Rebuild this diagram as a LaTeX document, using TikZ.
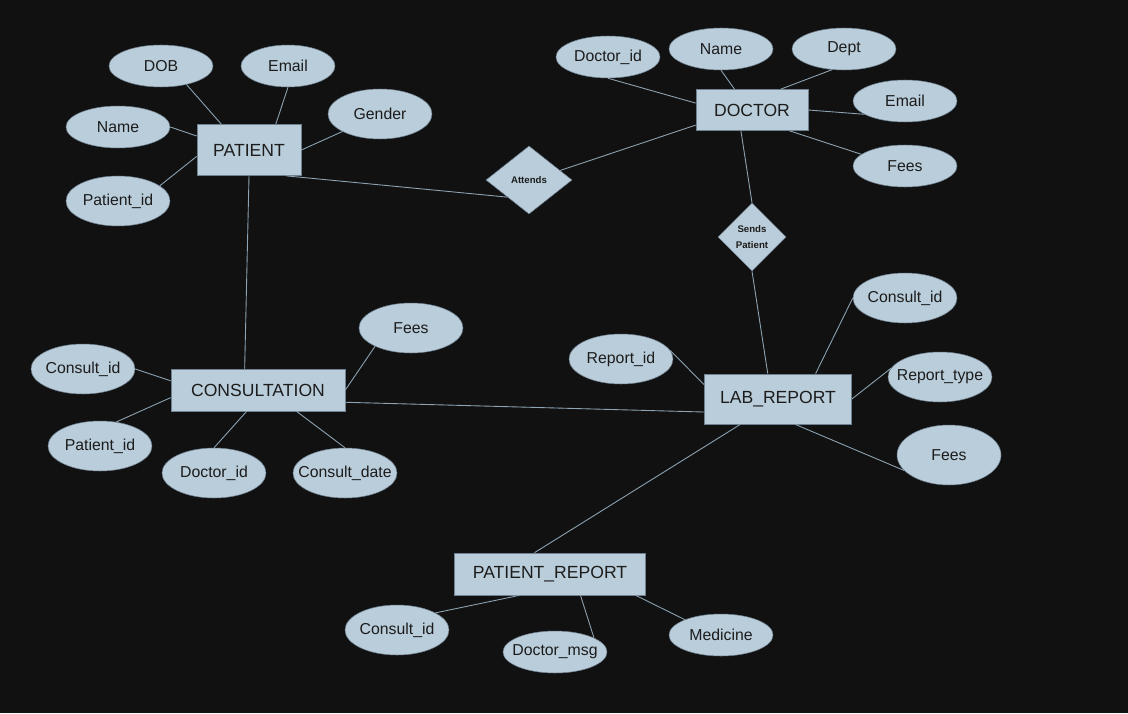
\documentclass[tikz,border=0pt]{standalone}
\usepackage{fontspec}
\setmainfont{Liberation Sans}
\usetikzlibrary{shapes.geometric}
\definecolor{bgdark}{HTML}{111111}
\definecolor{boxfill}{HTML}{BACDDA}
\definecolor{boxline}{HTML}{6F8090}
\definecolor{linkline}{HTML}{8EA3B3}
\definecolor{inktext}{HTML}{1C1C1C}
\begin{document}
\begin{tikzpicture}[x=0.02cm, y=-0.02cm,
  entity/.style={rectangle, draw=boxline, fill=boxfill, line width=0.4pt, text=inktext, font=\fontsize{10}{12}\selectfont, inner sep=0pt},
  attr/.style={ellipse, draw=boxline, fill=boxfill, line width=0.3pt, minimum width=2.08cm, minimum height=#1, inner sep=0pt},
  attr/.default=0.84cm,
  rel/.style={diamond, draw=boxline, fill=boxfill, line width=0.3pt, text=inktext, inner sep=0pt, minimum height=1.36cm, align=center, font=\bfseries\fontsize{5.5}{9.6}\selectfont},
  link/.style={draw=linkline, line width=0.5pt},
  every label/.style={text=inktext, font=\fontsize{9}{11}\selectfont}]
\path[use as bounding box, fill=bgdark] (0,0) rectangle (1128,713);

\node[entity, minimum width=2.08cm, minimum height=1.02cm] (patient) at (249,150) {PATIENT};
\node[entity, minimum width=2.24cm, minimum height=0.82cm] (doctor) at (752,110) {DOCTOR};
\node[entity, minimum width=3.48cm, minimum height=0.84cm] (consult) at (258,390) {CONSULTATION};
\node[entity, minimum width=2.94cm, minimum height=1cm] (labreport) at (778,399) {LAB\_REPORT};
\node[entity, minimum width=3.82cm, minimum height=0.84cm] (patreport) at (550,574) {PATIENT\_REPORT};

\node[rel, minimum width=1.72cm] (attends) at (529,180) {Attends};
\node[rel, minimum width=1.36cm] (sends) at (752,237) {Sends\\Patient};

\node[attr, label={center:DOB}] (pdob) at (161,66) {};
\node[attr, minimum width=1.88cm, label={center:Email}] (pemail) at (288,66) {};
\node[attr, label={center:Name}] (pname) at (118,127) {};
\node[attr=1cm, label={center:Gender}] (pgender) at (380,114) {};
\node[attr=1cm, label={center:Patient\_id}] (pid) at (118,201) {};

\node[attr, label={center:Doctor\_id}] (did) at (608,57) {};
\node[attr, label={center:Name}] (dname) at (721,49) {};
\node[attr, label={center:Dept}] (ddept) at (844,49) {};
\node[attr, label={center:Email}] (demail) at (905,101) {};
\node[attr, label={center:Fees}] (dfees) at (905,166) {};

\node[attr=1cm, label={center:Consult\_id}] (lcid) at (905,298) {};
\node[attr=1cm, label={center:Report\_id}] (lrid) at (621,359) {};
\node[attr=1cm, label={center:Report\_type}] (ltype) at (940,377) {};
\node[attr=1.2cm, label={center:Fees}] (lfees) at (949,455) {};

\node[attr=1cm, label={center:Fees}] (cfees) at (411,328) {};
\node[attr=1cm, label={center:Consult\_id}] (ccid) at (83,369) {};
\node[attr=1cm, label={center:Patient\_id}] (cpid) at (100,446) {};
\node[attr=1cm, label={center:Doctor\_id}] (cdid) at (214,473) {};
\node[attr=1cm, label={center:Consult\_date}] (cdate) at (345,473) {};

\node[attr=1cm, label={center:Consult\_id}] (rcid) at (397,630) {};
\node[attr, label={center:Doctor\_msg}] (rmsg) at (555,652) {};
\node[attr, label={center:Medicine}] (rmed) at (721,635) {};

\draw[link] (pdob.-36) -- (patient.137);
\draw[link] (pemail.south) -- (patient.44);
\draw[link] (pname.east) -- (patient.165);
\draw[link] (pgender.205) -- (patient.east);
\draw[link] (pid.20) -- (patient.187);
\draw[link] (patient.south) -- (consult.122);
\draw[link] (patient.-35) -- (attends.south west);
\draw[link] (attends.17) -- (doctor.195);

\draw[link] (did.south) -- (doctor.173);
\draw[link] (dname.south) -- (doctor.130);
\draw[link] (ddept.240) -- (doctor.36);
\draw[link] (demail.198) -- (doctor.east);
\draw[link] (dfees.165) -- (doctor.331);
\draw[link] (doctor.242) -- (sends.north);
\draw[link] (sends.south) -- (labreport.112);

\draw[link] (lcid.west) -- (labreport.34);
\draw[link] (lrid.10) -- (labreport.169);
\draw[link] (ltype.170) -- (labreport.east);
\draw[link] (lfees.199) -- (labreport.304);
\draw[link] (consult.-8) -- (labreport.190);
\draw[link] (labreport.214) -- (patreport.126);

\draw[link] (cfees.207) -- (consult.east);
\draw[link] (ccid.east) -- (consult.174);
\draw[link] (cpid.56) -- (consult.185);
\draw[link] (cdid.north) -- (consult.242);
\draw[link] (cdate.north) -- (consult.331);

\draw[link] (patreport.215) -- (rcid.24);
\draw[link] (patreport.325) -- (rmsg.20);
\draw[link] (patreport.346) -- (rmed.157);
\end{tikzpicture}
\end{document}
